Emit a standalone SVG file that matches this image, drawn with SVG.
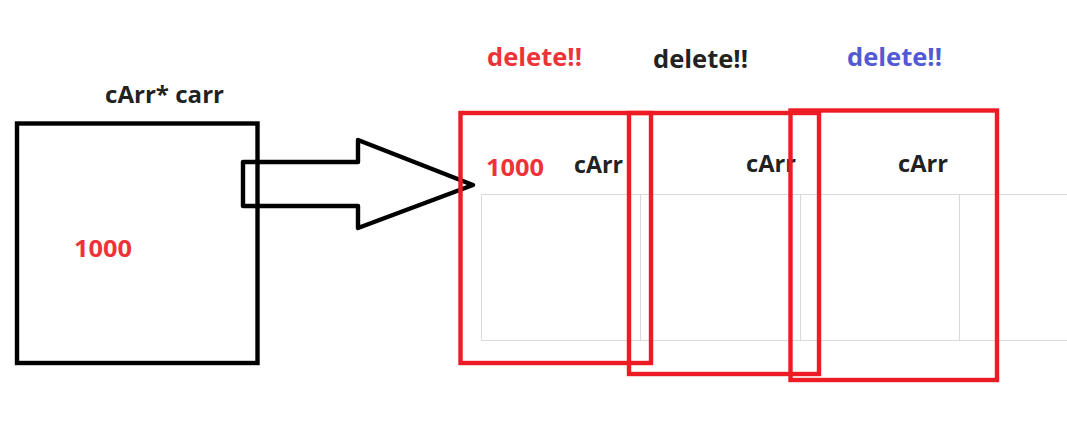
<svg xmlns="http://www.w3.org/2000/svg" width="1067" height="435" viewBox="0 0 1067 435">
<style>
.t{font-family:"Open Sans","Noto Sans","Liberation Sans",sans-serif;font-weight:bold}
.dark{fill:#222222}
.red{fill:#ee3338}
.blue{fill:#5259d6}
.grid{stroke:#d9d9d9;stroke-width:1;fill:none}
.box{fill:none;stroke:#ed1c24;stroke-width:4.4}
</style>
<rect width="1067" height="435" fill="#ffffff"/>
<g id="pointer">
<rect x="17" y="123.5" width="240.5" height="239.5" fill="none" stroke="#000" stroke-width="4.4"/>
<text class="t dark" x="105" y="103" font-size="23" textLength="119" lengthAdjust="spacingAndGlyphs">cArr* carr</text>
<text class="t red" x="74" y="256.5" font-size="24" textLength="58" lengthAdjust="spacingAndGlyphs">1000</text>
</g>
<g id="array">
<path class="grid" d="M481.5 194.5H1067M481.5 340.5H1067M481.5 194.5V340.5M640.5 194.5V340.5M800.5 194.5V340.5M959.5 194.5V340.5"/>
<text class="t red" x="486" y="175.5" font-size="24" textLength="58" lengthAdjust="spacingAndGlyphs">1000</text>
<text class="t dark" x="574" y="173" font-size="23" textLength="49" lengthAdjust="spacingAndGlyphs">cArr</text>
<text class="t dark" x="746" y="172" font-size="23" textLength="50" lengthAdjust="spacingAndGlyphs">cArr</text>
<text class="t dark" x="898" y="172" font-size="23" textLength="50" lengthAdjust="spacingAndGlyphs">cArr</text>
</g>
<g id="connectors">
<path d="M243 162H358V140L473 185L358 228V206H243Z" fill="none" stroke="#000" stroke-width="4.4" stroke-linejoin="round"/>
</g>
<g id="delete1">
<rect class="box" x="460.5" y="113" width="190.5" height="250"/>
<text class="t red" x="487" y="66" font-size="25" textLength="95" lengthAdjust="spacingAndGlyphs">delete!!</text>
</g>
<g id="delete2">
<rect class="box" x="629" y="113" width="190" height="261"/>
<text class="t dark" x="653" y="68" font-size="25" textLength="95" lengthAdjust="spacingAndGlyphs">delete!!</text>
</g>
<g id="delete3">
<rect class="box" x="790.5" y="110.5" width="206.5" height="269.5"/>
<text class="t blue" x="847" y="66" font-size="25" textLength="95" lengthAdjust="spacingAndGlyphs">delete!!</text>
</g>
</svg>
